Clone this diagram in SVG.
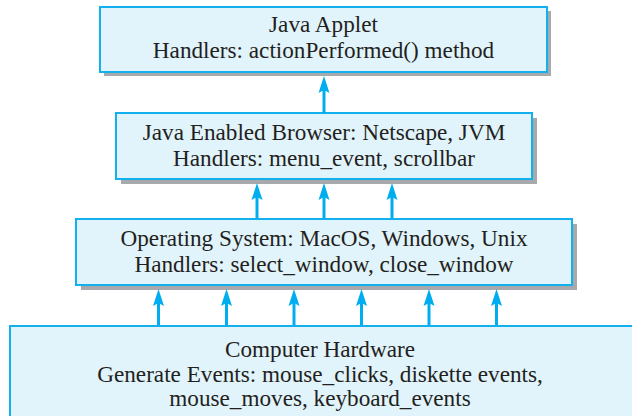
<svg xmlns="http://www.w3.org/2000/svg" width="632" height="416" viewBox="0 0 632 416">
<style>
.box{fill:#e1f3fb;stroke:#12b0ec;stroke-width:2}
.shadow{fill:#a7a9ac}
.t{font-family:"Liberation Serif","Times New Roman",serif;font-size:23.2px;fill:#231f20;text-anchor:middle}
.arr{stroke:#00aeef;stroke-width:3;fill:none;marker-end:url(#ah)}
</style>
<defs>
<marker id="ah" markerUnits="userSpaceOnUse" viewBox="0 -6 17 12" markerWidth="17" markerHeight="12" refX="4" refY="0" orient="auto">
<path d="M17,0 L0,-5.5 L3,0 L0,5.5 Z" fill="#00aeef"/>
</marker>
</defs>
<rect width="632" height="416" fill="#ffffff"/>
<g id="hardware">
<rect class="box" x="10" y="326" width="640" height="120"/>
<text class="t" x="320" y="357">Computer Hardware</text>
<text class="t" x="320" y="381.5">Generate Events: mouse_clicks, diskette events,</text>
<text class="t" x="320" y="405.5">mouse_moves, keyboard_events</text>
</g>
<g id="os">
<rect class="shadow" x="81" y="224" width="496" height="66"/>
<rect class="box" x="76" y="219" width="496" height="66"/>
<text class="t" x="324" y="246">Operating System: MacOS, Windows, Unix</text>
<text class="t" x="324" y="272">Handlers: select_window, close_window</text>
</g>
<g id="browser">
<rect class="shadow" x="121" y="118" width="416" height="66"/>
<rect class="box" x="116" y="113" width="416" height="66"/>
<text class="t" x="324" y="140">Java Enabled Browser: Netscape, JVM</text>
<text class="t" x="324" y="165.5">Handlers: menu_event, scrollbar</text>
</g>
<g id="applet">
<rect class="shadow" x="104" y="11" width="447" height="65"/>
<rect class="box" x="100" y="7" width="447" height="65"/>
<text class="t" x="323.5" y="32">Java Applet</text>
<text class="t" x="323.5" y="58">Handlers: actionPerformed() method</text>
</g>
<g id="connectors">
<line class="arr" x1="324" y1="113" x2="324" y2="89"/>
<line class="arr" x1="257" y1="219" x2="257" y2="196"/>
<line class="arr" x1="324" y1="219" x2="324" y2="196"/>
<line class="arr" x1="392" y1="219" x2="392" y2="196"/>
<line class="arr" x1="158.5" y1="326" x2="158.5" y2="302"/>
<line class="arr" x1="226.5" y1="326" x2="226.5" y2="302"/>
<line class="arr" x1="294" y1="326" x2="294" y2="302"/>
<line class="arr" x1="361.5" y1="326" x2="361.5" y2="302"/>
<line class="arr" x1="429" y1="326" x2="429" y2="302"/>
<line class="arr" x1="496.5" y1="326" x2="496.5" y2="302"/>
</g>
</svg>
